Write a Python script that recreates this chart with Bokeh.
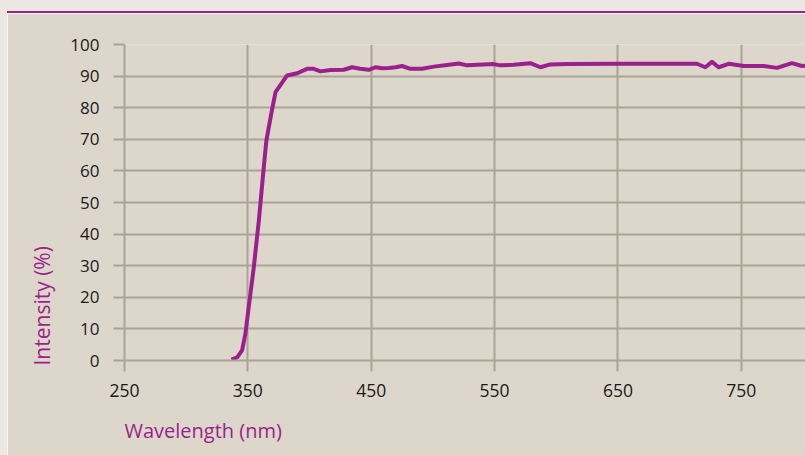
from bokeh.plotting import figure
from bokeh.models import Range1d, Title, FixedTicker, Div
from bokeh.layouts import row, column
from bokeh.embed import file_html
from bokeh.resources import INLINE

wavelength = [336.7, 341.3, 345.3, 348.0, 350.7, 354.8, 358.9, 362.9, 365.0, 368.9, 372.4,
              381.8, 390.0, 398.0, 403.4, 408.8, 417.0, 427.7, 434.5, 441.0, 448.0, 453.4,
              458.8, 464.2, 469.6, 475.0, 481.8, 491.2, 500.7, 511.5, 521.0, 527.7, 541.0,
              549.3, 554.7, 565.5, 579.0, 587.0, 595.2, 608.7, 649.2, 714.0, 720.8, 726.2,
              731.6, 739.7, 751.9, 768.1, 778.9, 791.0, 799.2, 803.0]
intensity = [0.3, 1.0, 3.2, 8.5, 16.9, 29.5, 44.3, 61.2, 69.6, 78.0, 84.9,
             90.2, 90.9, 92.3, 92.3, 91.5, 91.9, 92.0, 92.8, 92.3, 92.0, 92.8,
             92.5, 92.6, 92.8, 93.2, 92.3, 92.3, 93.0, 93.5, 94.0, 93.4, 93.7,
             93.8, 93.4, 93.6, 94.1, 92.8, 93.7, 93.8, 93.9, 93.9, 92.8, 94.5,
             92.8, 93.9, 93.2, 93.2, 92.6, 94.1, 93.2, 93.3]
x_ticks = [250, 350, 450, 550, 650, 750]
y_ticks = [0, 10, 20, 30, 40, 50, 60, 70, 80, 90, 100]

BG = "#ddd6ca"
PAGE = "#ece8e1"
PURPLE = "#9b1f8c"
GRID = "#aaa396"
FONT = "Open Sans"

p = figure(width=798, height=448, output_backend="svg", toolbar_location=None,
           x_range=Range1d(250, 802), y_range=Range1d(0, 100),
           min_border_left=117, min_border_right=0, min_border_top=31, min_border_bottom=101,
           margin=0)
p.background_fill_color = BG
p.border_fill_color = BG
p.outline_line_color = None

for ax in (p.xaxis[0], p.yaxis[0]):
    ax.axis_line_color = GRID
    ax.axis_line_width = 2
    ax.major_tick_line_color = GRID
    ax.major_tick_line_width = 2
    ax.major_tick_out = 11
    ax.major_tick_in = 0
    ax.minor_tick_line_color = None
    ax.major_label_text_font = FONT
    ax.major_label_text_color = "#1a1a1a"
p.xaxis[0].major_label_text_font_size = "17.5px"
p.yaxis[0].major_label_text_font_size = "17px"
p.xaxis[0].ticker = FixedTicker(ticks=x_ticks)
p.yaxis[0].ticker = FixedTicker(ticks=y_ticks)
p.xaxis[0].major_label_standoff = 12
p.yaxis[0].major_label_standoff = 14

p.xgrid[0].ticker = FixedTicker(ticks=x_ticks)
p.ygrid[0].ticker = FixedTicker(ticks=y_ticks)
p.grid.grid_line_color = GRID
p.grid.grid_line_width = 2

p.line(wavelength, intensity, line_color=PURPLE, line_width=4, line_join="round")

p.add_layout(Title(text="Wavelength (nm)", align="left", text_font=FONT,
                   text_font_size="20px", text_font_style="normal", text_color=PURPLE,
                   standoff=31), "below")
p.add_layout(Title(text="Intensity (%)", align="left", text_font=FONT,
                   text_font_size="21px", text_font_style="normal", text_color=PURPLE,
                   standoff=24, offset=-5), "left")

top = Div(text="", width=798, height=13, margin=0,
          styles={"background-color": PAGE, "border-bottom": "2px solid " + PURPLE,
                  "box-sizing": "border-box"})
side = Div(text="", width=7, height=461, margin=0, styles={"background-color": PAGE})
layout = row(side, column(top, p, spacing=0, margin=0), spacing=0, margin=0)

open("out.html", "w").write(file_html(layout, INLINE))
